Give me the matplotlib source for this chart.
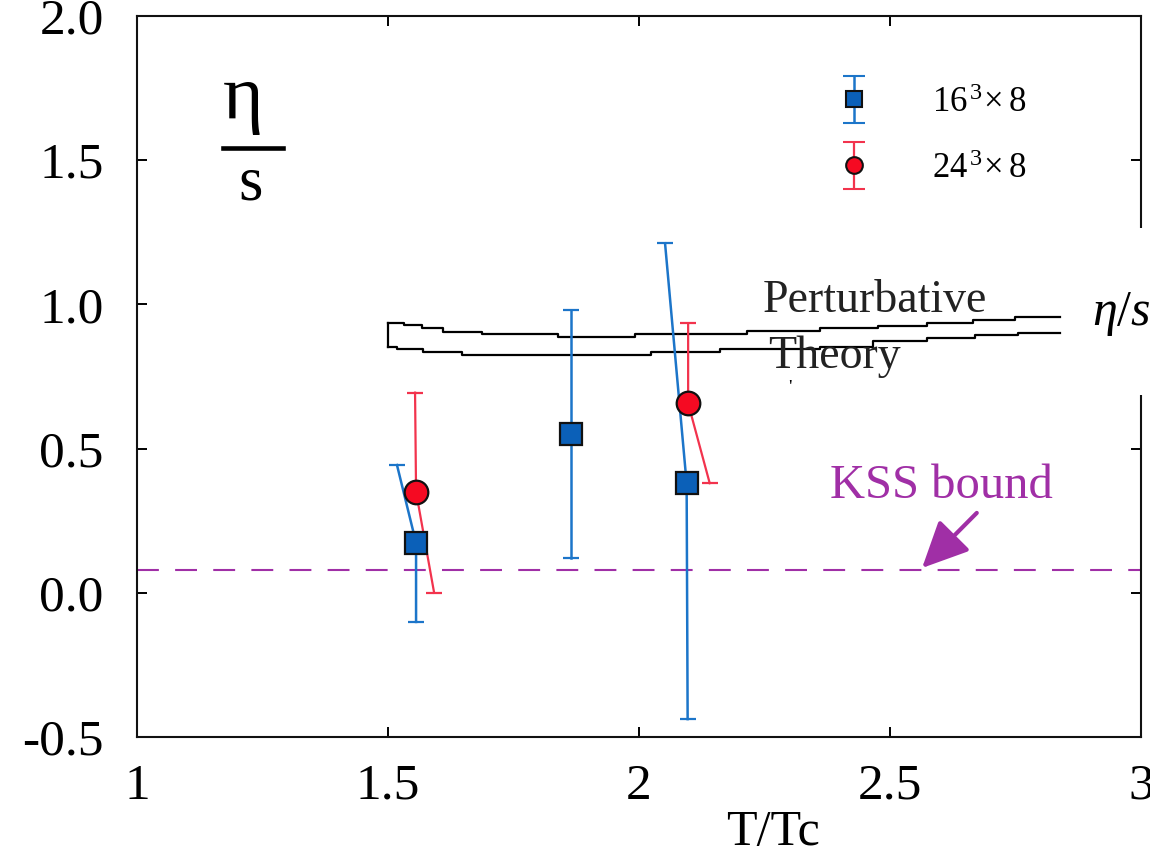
import numpy as np
import matplotlib
matplotlib.use('Agg')
import matplotlib.pyplot as plt
from matplotlib.legend_handler import HandlerErrorbar
from matplotlib.patches import Rectangle
from matplotlib.lines import Line2D

plt.rcParams['font.family'] = ['Liberation Serif', 'DejaVu Serif']
plt.rcParams['mathtext.fontset'] = 'custom'
plt.rcParams['mathtext.rm'] = 'Liberation Serif'
plt.rcParams['mathtext.it'] = 'Liberation Serif:italic'

# ---------------- data ----------------
# 16^3 x 8 lattice (blue squares); error bars drawn between given end points
T16 = [1.556, 1.864, 2.095]
eta16 = [0.173, 0.551, 0.380]
T16_hi = [1.518, 1.864, 2.052]
eta16_hi = [0.443, 0.981, 1.212]
T16_lo = [1.556, 1.864, 2.097]
eta16_lo = [-0.101, 0.122, -0.438]

# 24^3 x 8 lattice (red circles)
T24 = [1.556, 2.098]
eta24 = [0.350, 0.657]
T24_hi = [1.554, 2.098]
eta24_hi = [0.694, 0.934]
T24_lo = [1.592, 2.141]
eta24_lo = [0.000, 0.380]

# perturbative theory band (stair-step outline)
band_up_x = [1.5, 1.532, 1.567, 1.610, 1.687, 1.839, 1.992, 2.215, 2.361, 2.476, 2.573, 2.665, 2.749, 2.839]
band_up_y = [0.937, 0.929, 0.917, 0.905, 0.897, 0.888, 0.898, 0.908, 0.917, 0.926, 0.937, 0.946, 0.957, 0.957]
band_lo_x = [1.5, 1.519, 1.570, 1.647, 2.025, 2.161, 2.361, 2.466, 2.573, 2.669, 2.755, 2.839]
band_lo_y = [0.853, 0.844, 0.836, 0.825, 0.836, 0.844, 0.853, 0.873, 0.885, 0.893, 0.902, 0.902]

kss = 1.0 / (4.0 * np.pi)
kss_arrow_from = (2.673, 0.277)
kss_arrow_to = (2.564, 0.086)

xticks = [1, 1.5, 2, 2.5, 3]
xticklabels = ['1', '1.5', '2', '2.5', '3']
yticks = [-0.5, 0.0, 0.5, 1.0, 1.5, 2.0]
yticklabels = ['-0.5', '0.0', '0.5', '1.0', '1.5', '2.0']
labels = [r'$\mathrm{16}^{\,3}\!\times\mathrm{8}$', r'$\mathrm{24}^{\,3}\!\times\mathrm{8}$']

# ---------------- style ----------------
blue_line = '#1c75c9'
blue_fill = '#0b60b8'
red_line = '#f2334d'
red_fill = '#f50a22'
purple = '#a02fa6'

fig = plt.figure(figsize=(11.5, 8.55), dpi=100)
ax = fig.add_axes([0.1191, 0.1380, 0.8730, 0.8433])
ax.set_xlim(1, 3)
ax.set_ylim(-0.5, 2.0)

# KSS bound
ax.axhline(kss, color=purple, lw=1.5, dashes=(10.5, 7.8), zorder=1)
ax.annotate('', xy=kss_arrow_to, xytext=kss_arrow_from,
            arrowprops=dict(arrowstyle='-|>,head_length=0.95,head_width=0.45',
                            mutation_scale=30, lw=3, color=purple,
                            shrinkA=0, shrinkB=0), zorder=3)
ax.text(0.690, 0.3315, 'KSS bound', transform=ax.transAxes, color=purple,
        fontsize=35, ha='left', va='baseline')

# perturbative band
ax.step(band_up_x, band_up_y, where='post', color='black', lw=1.6, zorder=2)
ax.step(band_lo_x, band_lo_y, where='post', color='black', lw=1.6, zorder=2)
ax.plot([band_up_x[0], band_lo_x[0]], [band_up_y[0], band_lo_y[0]], color='black', lw=1.6, zorder=2)
ax.text(0.6235, 0.5895, 'Perturbative', transform=ax.transAxes, fontsize=33,
        ha='left', va='baseline', color='#222222')
ax.text(0.6285, 0.5118, 'Theory', transform=ax.transAxes, fontsize=33,
        ha='left', va='baseline', color='#222222')
ax.text(0.650, 0.484, "'", transform=ax.transAxes, fontsize=14, ha='center', va='center')

# error bars (possibly slanted) + markers
def draw_series(T, eta, Thi, ehi, Tlo, elo, lc, fc, marker, ms, lw):
    for i in range(len(T)):
        ax.plot([Thi[i], T[i], Tlo[i]], [ehi[i], eta[i], elo[i]], color=lc, lw=lw, zorder=4)
    ax.plot(Thi, ehi, ls='none', marker='_', ms=11.5, mew=1.6, color=lc, zorder=4)
    ax.plot(Tlo, elo, ls='none', marker='_', ms=11.5, mew=1.6, color=lc, zorder=4)
    ax.plot(T, eta, ls='none', marker=marker, ms=ms, mfc=fc, mec='#111111', mew=1.6, zorder=5)

draw_series(T16, eta16, T16_hi, eta16_hi, T16_lo, eta16_lo, blue_line, blue_fill, 's', 16, 1.8)
draw_series(T24, eta24, T24_hi, eta24_hi, T24_lo, eta24_lo, red_line, red_fill, 'o', 17, 1.6)

# legend proxies
h16 = ax.errorbar([np.nan], [np.nan], yerr=[0.1], fmt='s', ms=11, mfc=blue_fill, mec='#111111',
                  mew=1.5, ecolor=blue_line, elinewidth=1.8, capsize=8, capthick=1.6)
h24 = ax.errorbar([np.nan], [np.nan], yerr=[0.1], fmt='o', ms=12, mfc=red_fill, mec='#111111',
                  mew=1.5, ecolor=red_line, elinewidth=1.6, capsize=8, capthick=1.6)
leg = ax.legend([h16, h24], labels, loc='upper left', bbox_to_anchor=(0.697, 0.902),
                frameon=False, fontsize=25, handlelength=1.0, handletextpad=1.75,
                labelspacing=0.95, borderaxespad=0, borderpad=0, numpoints=1,
                handler_map={type(h16): HandlerErrorbar(xerr_size=0.3, yerr_size=0.68)})

# eta/s label
ax.text(0.1056, 0.8585, 'η', transform=ax.transAxes, fontsize=56, ha='center', va='baseline')
ax.text(0.1136, 0.7448, 's', transform=ax.transAxes, fontsize=45, ha='center', va='baseline')
ax.add_line(Line2D([0.0857, 0.1454], [0.8169, 0.8169], transform=ax.transAxes, color='black', lw=3.3))

# white patch over right spine region + overlapping eta/s text
ax.add_patch(Rectangle((0.921, 0.474), 0.09, 0.232, transform=ax.transAxes, facecolor='white',
                       edgecolor='none', clip_on=False, zorder=10))
ax.text(0.951, 0.571, r'$\eta/s$', transform=ax.transAxes, fontsize=36, ha='left', va='baseline',
        clip_on=False, zorder=11)

# axes styling
ax.set_xticks(xticks)
ax.set_xticklabels(xticklabels)
ax.set_yticks(yticks)
ax.set_yticklabels(yticklabels)
ax.tick_params(axis='both', direction='in', length=7.2, width=1.4, top=True, right=True)
ax.tick_params(axis='y', labelsize=37, pad=24)
ax.tick_params(axis='x', labelsize=37, pad=19)
for sp in ax.spines.values():
    sp.set_linewidth(1.5)
    sp.set_color('#111111')
ax.set_xlabel('T/Tc', fontsize=36)
ax.xaxis.set_label_coords(0.633, -0.100)

fig.savefig('out.png', dpi=100)
